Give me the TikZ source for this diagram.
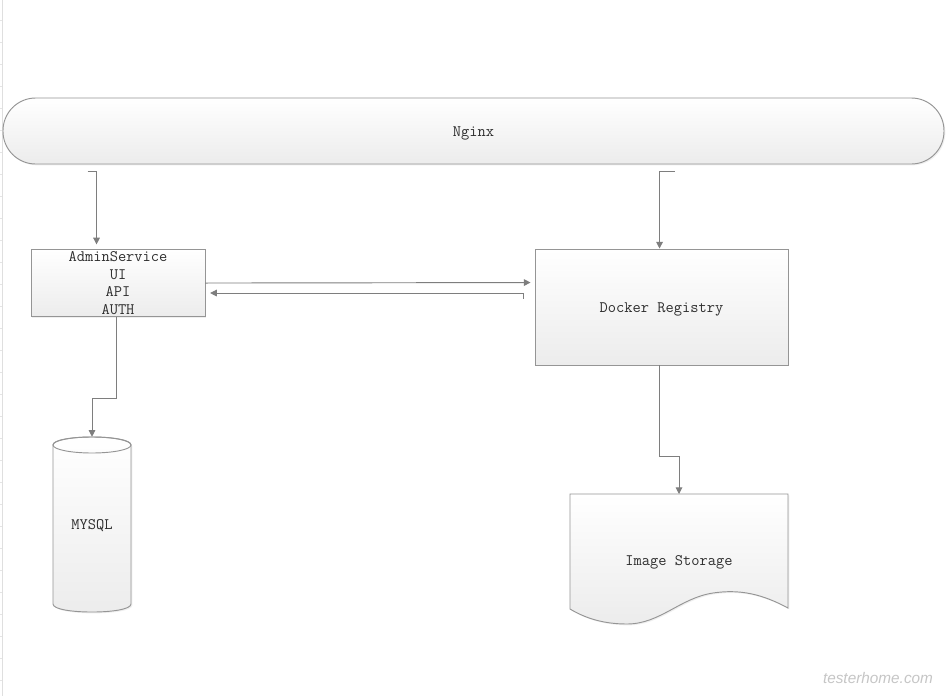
\documentclass[tikz,border=0pt]{standalone}
\usepackage{fontspec}
\newfontfamily\diagfont{Latin Modern Mono}
\newfontfamily\wmfont{Liberation Sans}
\usetikzlibrary{arrows.meta,calc,shadows}
\definecolor{edgegray}{HTML}{959595}
\definecolor{linegray}{HTML}{7E7E7E}
\definecolor{fillbot}{HTML}{ECECEC}
\definecolor{textgray}{HTML}{2E2E2E}
\begin{document}
\begin{tikzpicture}[x=0.75pt,y=-0.75pt,
  boxstyle/.style={draw=edgegray, line width=0.7pt, top color=white, bottom color=fillbot,
    inner sep=0pt, align=center, font=\diagfont\fontsize{12}{13.1}\selectfont, text=textgray,
    drop shadow={opacity=0.12, shadow xshift=1pt, shadow yshift=-1pt}},
  oneline/.style={text height=9pt, text depth=1pt},
  shapeline/.style={draw=edgegray, line width=0.7pt, top color=white, bottom color=fillbot},
  labelstyle/.style={inner sep=0pt, align=center, font=\diagfont\fontsize{12}{13.1}\selectfont, text=textgray},
  conn/.style={draw=linegray, line width=0.7pt, -{Triangle[width=5pt,length=5pt]}}]
\useasboundingbox (0,0) rectangle (946,696);
\fill[white] (0,0) rectangle (946,696);
% left ruler
\draw[gray!25, line width=0.6pt] (2,0) -- (2,696);
\foreach \t in {20,42,...,690} \draw[gray!20, line width=0.5pt] (0,\t) -- (2,\t);

% nodes
\node[boxstyle, oneline, rounded corners=24.5pt, minimum width=941*0.75pt, minimum height=66*0.75pt]
  (nginx) at (473.5,131) {Nginx};
\node[boxstyle, minimum width=174*0.75pt, minimum height=67*0.75pt]
  (admin) at (118,283) {AdminService\\UI\\API\\AUTH};
\node[boxstyle, oneline, minimum width=253*0.75pt, minimum height=116*0.75pt]
  (docker) at (661.5,307) {Docker Registry};

% MYSQL cylinder
\path[shapeline, drop shadow={opacity=0.12, shadow xshift=1pt, shadow yshift=-1pt}]
  (53,445) -- (53,604) .. controls (53,614.7) and (131,614.7) .. (131,604) -- (131,445)
  .. controls (131,434.3) and (53,434.3) .. (53,445) -- cycle;
\draw[edgegray, line width=0.7pt] (92,445) ellipse [x radius=29.25pt, y radius=6pt];
\node[labelstyle, oneline, minimum width=78*0.75pt, minimum height=175*0.75pt] (mysql) at (92,524.5) {MYSQL};

% Image Storage document
\path[shapeline, drop shadow={opacity=0.12, shadow xshift=1pt, shadow yshift=-1pt}]
  (570,494) -- (788,494) -- (788,608)
  .. controls (762,594) and (740,589) .. (713,593)
  .. controls (680,598) and (660,624) .. (627,624)
  .. controls (603,624) and (585,618) .. (570,609) -- cycle;
\node[labelstyle, oneline, minimum width=218*0.75pt, minimum height=10pt] (storage) at (679,560) {Image Storage};
\coordinate (storagetop) at (679,494);

% connectors
\draw[conn, shorten >=3.5pt] ($(nginx.south west)+(85,7)$) -| ($(admin.north west)+(66,0)$);
\draw[conn] ($(nginx.south west)+(672,7)$) -| ($(docker.north west)+(125,0)$);
\draw[conn, shorten >=3pt] ($(admin.north east)+(0,34)$) -- ($(docker.north west)+(0,34)$);
\draw[conn, shorten >=3.5pt] ($(docker.north west)+(-11,50)$) |- ($(admin.north east)+(0,44)$);
\draw[conn] ($(admin.south west)+(86,0)$) |- ($(mysql.north)+(0,-38)$) -- (mysql.north);
\draw[conn] ($(docker.south west)+(125,0)$) -- ++(0,91) -| (storagetop);

% watermark
\node[text=gray!45, font=\wmfont\itshape\fontsize{11.5}{13}\selectfont, inner sep=0pt] (wm) at (878,678) {testerhome.com};
\end{tikzpicture}
\end{document}
